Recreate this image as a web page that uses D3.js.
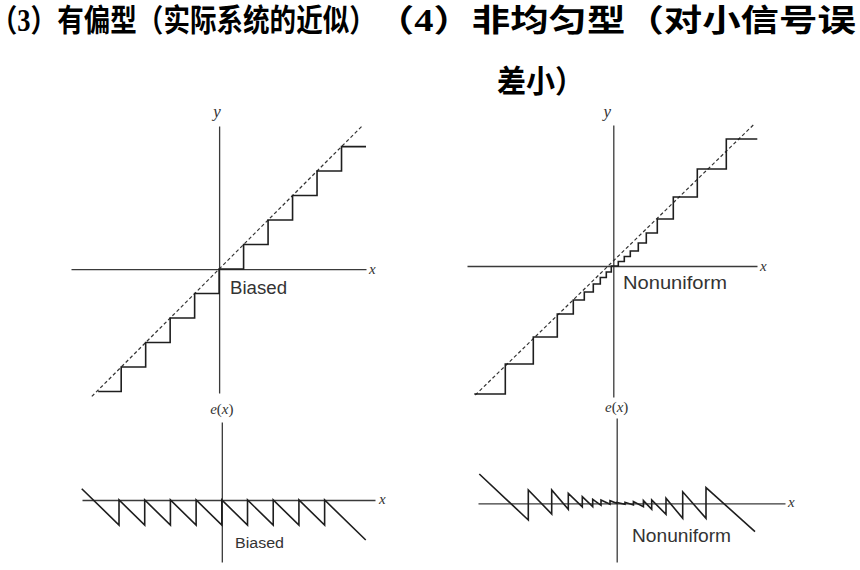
<!DOCTYPE html>
<html>
<head>
<meta charset="utf-8">
<script src="https://cdn.jsdelivr.net/npm/d3@7/dist/d3.min.js"></script>
<style>
  body { margin: 0; background: #fff; }
  svg { display: block; }
  .cap { font-family: "Noto Sans CJK SC", sans-serif; font-weight: 700; fill: #000; }
  .num { font-family: "Liberation Serif", serif; font-weight: 700; }
  .half { font-feature-settings: "halt"; }
  .lab { font-family: "Liberation Sans", Arial, sans-serif; fill: #333; }
  .var { font-family: "Liberation Serif", serif; font-style: italic; fill: #333; }
</style>
</head>
<body>
<svg id="fig" width="860" height="570"></svg>
<script>
const svg = d3.select("svg#fig");

// (3) biased quantizer, in units of one step
const biasedStepX = [-4.94, -4, -3, -2, -1, 0, 1, 2, 3, 4, 5, 6.0];
const biasedStepY = [-5, -4, -3, -2, -1, 0, 1, 2, 3, 4, 5, 5];
const biasedIdealX = [-5.2, 5.85];
const biasedIdealY = [-5.2, 5.85];
const biasedErrX = [-5.45, -4, -4, -3, -3, -2, -2, -1, -1, 0, 0, 1, 1, 2, 2, 3, 3, 4, 4, 5.6];
const biasedErrY = [0.45, -1, 0, -1, 0, -1, 0, -1, 0, -1, 0, -1, 0, -1, 0, -1, 0, -1, 0, -1.6];

// (4) nonuniform quantizer
const nonunifStepX = [-139, -108, -80, -56, -40, -29, -20, -13, -7, -2, 5, 11, 17, 25, 33, 44, 60, 84, 113, 144];
const nonunifStepY = [-128, -98, -71, -48, -34, -26, -18, -11.5, -6, 0, 4.5, 9.5, 15, 23, 33, 47, 69, 97, 127, 127];
const nonunifIdealX = [-138, 141];
const nonunifIdealY = [-129, 142];
const nonunifErrX = [-137.4, -88.4, -88.4, -65, -65, -48.4, -48.4, -34.4, -34.4, -24, -24, -15.7, -15.7, -6.7, -6.7, 0,
                     0, 8.3, 8.3, 16.7, 16.7, 26.7, 26.7, 35, 35, 49.3, 49.3, 66, 66, 89.3, 89.3, 138.3];
const nonunifErrY = [29.3, -16.7, 13.3, -10.7, 13.3, -6, 10, -3.5, 6.6, -3.4, 4, -2, 3.3, -1, 2.6, 0,
                     0.8, -1, 1, -1.7, 1.7, -3.3, 2.7, -6, 3.3, -11, 5, -15, 11.5, -15, 15.7, -28.3];

// captions: text pieces, then left/right edge and baseline
const captionParts = [
  ["（", "3", "）有偏型（实际系统的近似）"],
  ["（", "4", "）非均匀型（对小信号误"],
  ["差小）"]
];
const captionBox = [[4, 376, 31], [395, 856, 31], [497, 584, 92]];

captionParts.forEach(function(parts, i) {
  let b = captionBox[i];
  let t = svg.append("text")
    .attr("class", "cap")
    .attr("font-size", 31);
  parts.forEach(function(p, j) {
    let cls = null;
    if (/\d/.test(p)) cls = "num";
    else if (parts.length > 1 && j == 0) cls = "half";
    t.append("tspan")
      .attr("class", cls)
      .text(p);
  });
  // squeeze / stretch the line to the width it has in the figure
  let w = t.node().getComputedTextLength();
  t.attr("transform", "translate(" + b[0] + "," + b[2] + ") scale(" + ((b[1] - b[0]) / w) + ",1)");
});

function panel(opt) {
  let x = d3.scaleLinear().domain(opt.xd).range(opt.xr);
  let y = d3.scaleLinear().domain(opt.yd).range(opt.yr);
  let g = svg.append("g");

  // axes: only the domain line, no ticks
  g.append("g")
    .attr("transform", "translate(0," + y(0) + ")")
    .call(d3.axisBottom(x).tickValues([]).tickSizeOuter(0));
  g.append("g")
    .attr("transform", "translate(" + x(0) + ",0)")
    .call(d3.axisLeft(y).tickValues([]).tickSizeOuter(0));
  g.selectAll(".domain")
    .attr("stroke", "#3a3a3a")
    .attr("stroke-width", 1.3);

  if (opt.ideal) {
    g.append("path")
      .datum(d3.zip(opt.ideal[0], opt.ideal[1]))
      .attr("fill", "none")
      .attr("stroke", "#333")
      .attr("stroke-width", 1.2)
      .attr("stroke-dasharray", "3.5,2.5")
      .attr("d", d3.line().x(d => x(d[0])).y(d => y(d[1])));
  }

  g.append("path")
    .datum(d3.zip(opt.px, opt.py))
    .attr("fill", "none")
    .attr("stroke", "#1e1e1e")
    .attr("stroke-width", 1.6)
    .attr("d", d3.line()
      .curve(opt.step ? d3.curveStepAfter : d3.curveLinear)
      .x(d => x(d[0])).y(d => y(d[1])));

  // axis names
  g.append("text")
    .attr("class", "var")
    .attr("x", opt.xr[1] + opt.xlab[0])
    .attr("y", y(0) + opt.xlab[1])
    .attr("font-size", 15)
    .text("x");

  let yl = g.append("text")
    .attr("class", "var")
    .attr("text-anchor", "middle")
    .attr("x", x(0) + opt.ylab[0])
    .attr("y", opt.ylab[1])
    .attr("font-size", opt.ylab[2]);
  if (opt.ytext == "y") {
    yl.text("y");
  } else {
    yl.append("tspan").text("e");
    yl.append("tspan").attr("font-style", "normal").text("(");
    yl.append("tspan").text("x");
    yl.append("tspan").attr("font-style", "normal").text(")");
  }

  g.append("text")
    .attr("class", "lab")
    .attr("x", opt.label[0])
    .attr("y", opt.label[1])
    .attr("font-size", opt.label[2])
    .attr("textLength", opt.label[3])
    .attr("lengthAdjust", "spacingAndGlyphs")
    .text(opt.name);
}

panel({
  xd: [-6.05, 6.0], xr: [71, 366], yd: [-5.06, 5.84], yr: [393, 126],
  px: biasedStepX, py: biasedStepY, step: true, ideal: [biasedIdealX, biasedIdealY],
  xlab: [3, 5], ylab: [-2, 117, 17], ytext: "y",
  name: "Biased", label: [230, 294, 17.5, 57]
});

panel({
  xd: [-5.44, 5.96], xr: [82, 375], yd: [-2.48, 3.12], yr: [562, 422],
  px: biasedErrX, py: biasedErrY, step: false,
  xlab: [4, 4], ylab: [0, 414, 15], ytext: "e",
  name: "Biased", label: [235, 548, 15.5, 49]
});

panel({
  xd: [-146.3, 143.7], xr: [467, 757], yd: [-131, 141], yr: [397, 125],
  px: nonunifStepX, py: nonunifStepY, step: true, ideal: [nonunifIdealX, nonunifIdealY],
  xlab: [3, 5], ylab: [-6, 117, 17], ytext: "y",
  name: "Nonuniform", label: [623, 289, 17.5, 104]
});

panel({
  xd: [-138.7, 168.3], xr: [478, 785], yd: [-58.7, 85.3], yr: [562, 418],
  px: nonunifErrX, py: nonunifErrY, step: false,
  xlab: [3, 4], ylab: [0, 412, 15], ytext: "e",
  name: "Nonuniform", label: [632, 542, 17.5, 99]
});
</script>
</body>
</html>
